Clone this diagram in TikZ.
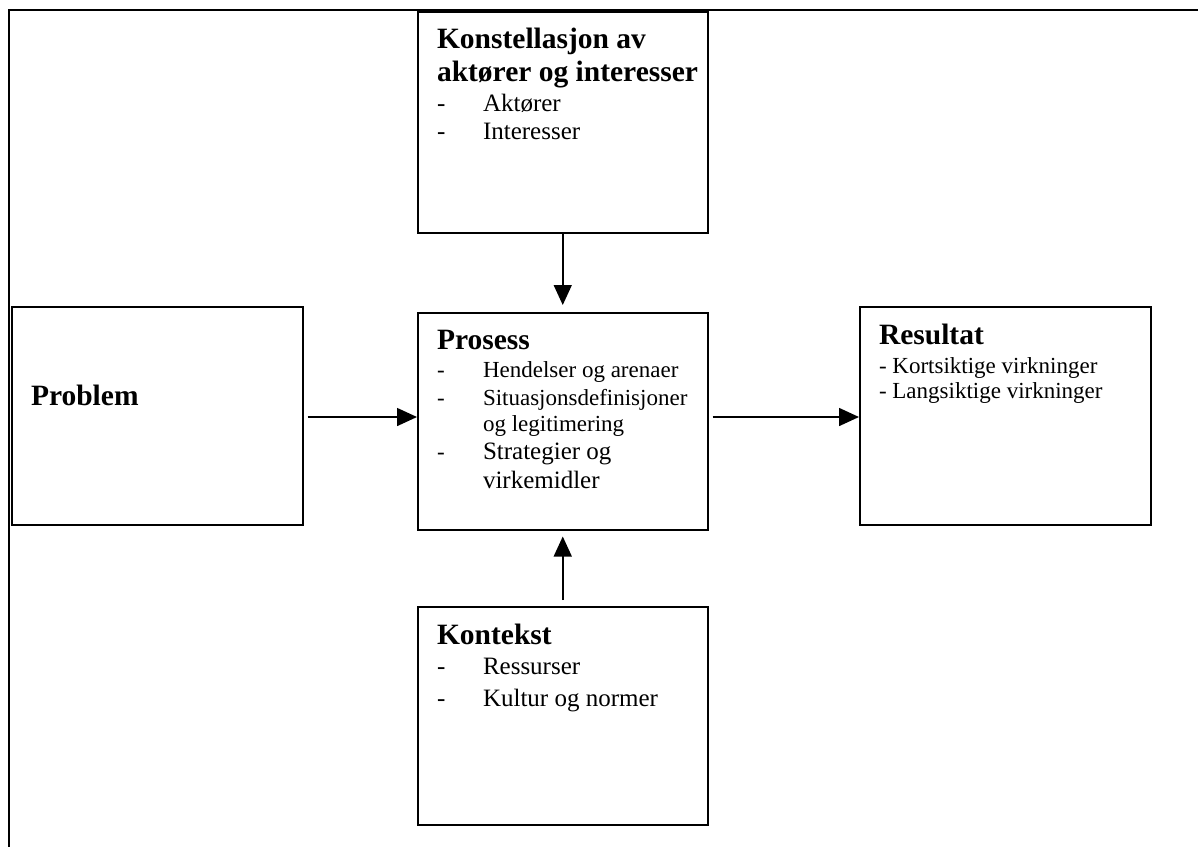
\documentclass[tikz,border=0pt]{standalone}
\usepackage{fontspec}
\setmainfont{Liberation Serif}
\usetikzlibrary{arrows.meta}
\begin{document}
\begin{tikzpicture}[x=1pt,y=-1pt,
  box/.style={draw=black, line width=1.5pt, rectangle, anchor=north west, inner sep=0pt, minimum width=#1},
  box/.default=290pt,
  frame/.style={draw=black, line width=2.2pt},
  arr/.style={draw=black, line width=1.5pt, -{Triangle[length=20pt,width=18pt]}},
  txt/.style={anchor=base west, inner sep=0pt, outer sep=0pt},
  head/.style={txt, font=\fontsize{29.5}{33}\selectfont\bfseries},
  bodys/.style={txt, font=\fontsize{23}{27}\selectfont},
  bodyl/.style={txt, font=\fontsize{25}{29}\selectfont}
]
\useasboundingbox (0,0) rectangle (1198,847);
% frame
\coordinate (ftl) at (9,10);
\coordinate (ftr) at (1198,10);
\coordinate (fbl) at (9,847);
\draw[frame] (ftr) -- (ftl) -- (fbl);

% boxes
\node[box, minimum height=221pt] (k) at (417,11) {};
\node[box, minimum height=217pt] (p) at (417,312) {};
\node[box, minimum height=218pt] (kt) at (417,606) {};
\node[box=291pt, minimum height=218pt] (pb) at (11,306) {};
\node[box=291pt, minimum height=218pt] (r) at (859,306) {};

% texts: Konstellasjon
\node[head] (k1) at (437,48) {Konstellasjon av};
\node[head] (k2) at (437,81) {aktører og interesser};
\node[bodyl] (kd1) at (437,111) {-};
\node[bodyl] (kt1) at (483,111) {Aktører};
\node[bodyl] (kd2) at (437,139) {-};
\node[bodyl] (kt2) at (483,139) {Interesser};

% Prosess
\node[head] (p1) at (437,349) {Prosess};
\node[bodys] (pd1) at (437,377) {-};
\node[bodys] (pt1) at (483,377) {Hendelser og arenaer};
\node[bodys] (pd2) at (437,405) {-};
\node[bodys] (pt2) at (483,405) {Situasjonsdefinisjoner};
\node[bodys] (pt3) at (483,431) {og legitimering};
\node[bodys] (pd3) at (437,459) {-};
\node[bodyl] (pt4) at (483,459) {Strategier og};
\node[bodyl] (pt5) at (483,488) {virkemidler};

% Problem
\node[head] (pb1) at (31,405) {Problem};

% Resultat
\node[head] (r1) at (879,344) {Resultat};
\node[bodys] (rt1) at (879,373) {- Kortsiktige virkninger};
\node[bodys] (rt2) at (879,398) {- Langsiktige virkninger};

% Kontekst
\node[head] (kt0) at (437,644) {Kontekst};
\node[bodyl] (ktd1) at (437,674) {-};
\node[bodyl] (ktt1) at (483,674) {Ressurser};
\node[bodyl] (ktd2) at (437,706) {-};
\node[bodyl] (ktt2) at (483,706) {Kultur og normer};

% connectors
\coordinate (hy) at (0,417);
\draw[arr, shorten >=7pt] (k.south) -- (k.south |- p.north);
\draw[arr, shorten <=6pt, shorten >=6pt] (kt.north) -- (kt.north |- p.south);
\draw[arr, shorten <=4pt] (pb.east |- hy) -- (p.west |- hy);
\draw[arr, shorten <=4pt] (p.east |- hy) -- (r.west |- hy);
\end{tikzpicture}
\end{document}
